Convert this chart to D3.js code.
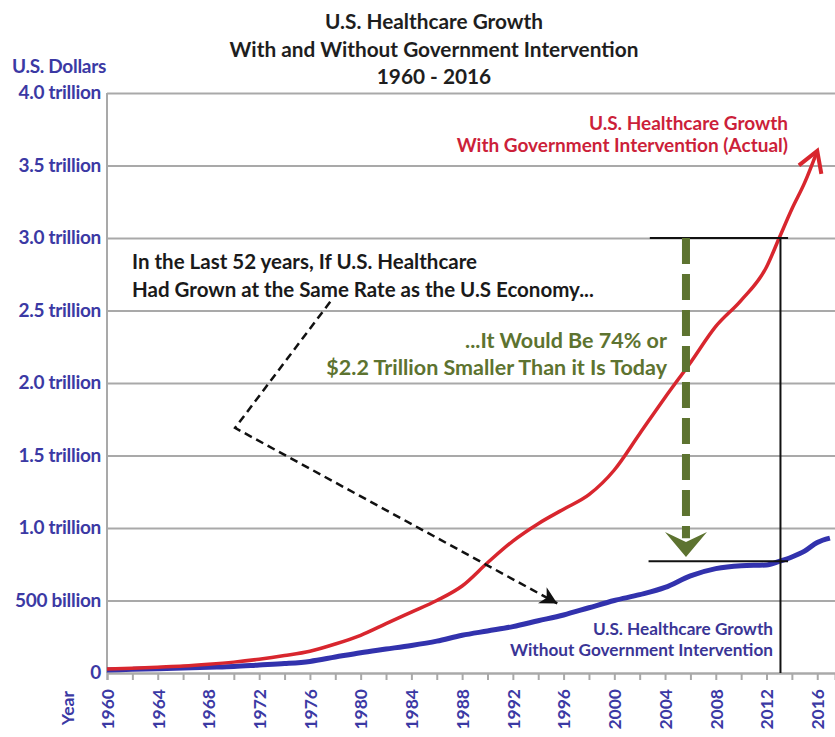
<!DOCTYPE html>
<html>
<head>
<meta charset="utf-8">
<script src="https://cdn.jsdelivr.net/npm/d3@7"></script>
<style>
  body { margin: 0; background: #fff; }
  text { font-family: "Lato", "Open Sans", sans-serif; font-weight: bold; }
</style>
</head>
<body>
<div id="chart"></div>
<script>
// data (trillions of US dollars)
const redYears = [1960,1962,1964,1966,1968,1970,1972,1974,1976,1978,1980,1982,1984,1986,1988,1990,1992,1994,1996,1998,2000,2002,2004,2006,2008,2010,2012,2013,2014,2015,2016];
const withGov  = [0.027,0.032,0.04,0.048,0.06,0.075,0.095,0.12,0.15,0.2,0.26,0.34,0.42,0.5,0.6,0.76,0.91,1.03,1.13,1.23,1.4,1.65,1.9,2.14,2.39,2.57,2.8,3.0,3.2,3.38,3.6];
const blueYears = [1960,1962,1964,1966,1968,1970,1972,1974,1976,1978,1980,1982,1984,1986,1988,1990,1992,1994,1996,1998,2000,2002,2004,2006,2008,2010,2012,2013,2014,2015,2016,2017];
const withoutGov = [0.02,0.025,0.03,0.035,0.04,0.045,0.055,0.065,0.08,0.11,0.14,0.165,0.19,0.22,0.26,0.29,0.32,0.36,0.4,0.45,0.5,0.54,0.59,0.67,0.72,0.74,0.745,0.77,0.8,0.84,0.9,0.93];
const yTicks = [0, 0.5, 1, 1.5, 2, 2.5, 3, 3.5, 4];
const yTickLabels = ["0","500 billion","1.0 trillion","1.5 trillion","2.0 trillion","2.5 trillion","3.0 trillion","3.5 trillion","4.0 trillion"];
const xTicks = d3.range(1960, 2018, 2);

// annotation guides in data units [year, trillions]
const pointerPath = [[1977.6, 2.56], [1970.1, 1.69], [1995.5, 0.48]];
const gapTop = [[2002.8, 3.0], [2013.7, 3.0]];
const gapBottom = [[2002.7, 0.77], [2013.7, 0.77]];
const marker2013 = [[2013.1, 3.0], [2013.1, 0]];
const greenArrow = [[2005.65, 3.0], [2005.65, 0.93]];

const W = 835, H = 737;
const svg = d3.select("#chart").append("svg")
  .attr("width", W)
  .attr("height", H);

svg.append("rect").attr("width", W).attr("height", H).attr("fill", "#fff");

const x = d3.scaleLinear().domain([1960, 2017.4]).range([107, 835]);
const y = d3.scaleLinear().domain([0, 4]).range([673, 93]);

const axisBlue = "#3b39a4";

// gridlines
svg.append("g")
  .attr("transform", `translate(${x(1960)},0)`)
  .call(d3.axisLeft(y).tickValues(yTicks).tickSize(-(W - x(1960))).tickFormat(""))
  .call(g => g.select(".domain").remove())
  .selectAll("line")
    .attr("stroke", "#a9a9a9")
    .attr("stroke-width", 2);

// y axis line + labels
svg.append("line")
  .attr("x1", x(1960)).attr("x2", x(1960))
  .attr("y1", y(4)).attr("y2", y(0))
  .attr("stroke", "#a9a9a9").attr("stroke-width", 2);

svg.append("g")
  .selectAll("text")
  .data(yTicks)
  .join("text")
    .attr("x", 101)
    .attr("y", d => y(d))
    .attr("dy", "0.33em")
    .attr("text-anchor", "end")
    .attr("fill", axisBlue)
    .attr("font-size", 19)
    .attr("letter-spacing", -0.3)
    .text((d, i) => yTickLabels[i]);

svg.append("text")
  .attr("x", 12).attr("y", 73)
  .attr("fill", axisBlue)
  .attr("font-size", 19)
  .attr("letter-spacing", -0.3)
  .text("U.S. Dollars");

// x axis
const xAxis = svg.append("g")
  .attr("transform", `translate(0,${y(0)})`)
  .call(d3.axisBottom(x).tickValues(xTicks).tickSize(7).tickFormat(d => d % 4 === 0 ? d : ""));
xAxis.select(".domain").attr("stroke", "#a9a9a9").attr("stroke-width", 2);
xAxis.selectAll(".tick line").attr("stroke", "#a9a9a9").attr("stroke-width", 2);
xAxis.selectAll(".tick text")
  .attr("transform", "rotate(-90)")
  .attr("x", -16)
  .attr("y", 0)
  .attr("dy", "0.36em")
  .attr("text-anchor", "end")
  .attr("fill", axisBlue)
  .attr("font-size", 17.5)
  .attr("font-family", "Lato, sans-serif")
  .attr("font-weight", "bold");

svg.append("text")
  .attr("transform", `translate(${68},${691}) rotate(-90)`)
  .attr("dy", "0.36em")
  .attr("text-anchor", "end")
  .attr("fill", axisBlue)
  .attr("font-size", 17.5)
  .text("Year");

// markers
const defs = svg.append("defs");
defs.append("marker")
  .attr("id", "redHead")
  .attr("markerUnits", "userSpaceOnUse")
  .attr("viewBox", "-26 -14 30 28")
  .attr("markerWidth", 30).attr("markerHeight", 28)
  .attr("refX", 0).attr("refY", 0)
  .attr("orient", "auto")
  .append("path")
    .attr("d", "M-20,-12 L0,0 L-20,12")
    .attr("fill", "none")
    .attr("stroke", "#d8262e")
    .attr("stroke-width", 4);

defs.append("marker")
  .attr("id", "blackHead")
  .attr("markerUnits", "userSpaceOnUse")
  .attr("viewBox", "-18 -10 20 20")
  .attr("markerWidth", 20).attr("markerHeight", 20)
  .attr("refX", 0).attr("refY", 0)
  .attr("orient", "auto")
  .append("path")
    .attr("d", "M-17,-9 L0,0 L-17,9 L-12,0 Z")
    .attr("fill", "#111");

const line = d3.line()
  .x(d => x(d[0]))
  .y(d => y(d[1]))
  .curve(d3.curveMonotoneX);

const straight = d3.line().x(d => x(d[0])).y(d => y(d[1]));

// series
svg.append("path")
  .datum(blueYears.map((yr, i) => [yr, withoutGov[i]]))
  .attr("fill", "none")
  .attr("stroke", "#3232ad")
  .attr("stroke-width", 5)
  .attr("d", line);

svg.append("path")
  .datum(redYears.map((yr, i) => [yr, withGov[i]]))
  .attr("fill", "none")
  .attr("stroke", "#d8262e")
  .attr("stroke-width", 3.5)
  .attr("marker-end", "url(#redHead)")
  .attr("d", line);

// black guide lines
[gapTop, gapBottom, marker2013].forEach(seg => {
  svg.append("path")
    .attr("d", straight(seg))
    .attr("fill", "none")
    .attr("stroke", "#111")
    .attr("stroke-width", 2);
});

// green dashed arrow
const green = "#5d7330";
svg.append("path")
  .attr("d", straight(greenArrow))
  .attr("stroke", green)
  .attr("stroke-width", 8)
  .attr("stroke-dasharray", "26,10");

const gx = x(greenArrow[1][0]), gy = y(0.8);
svg.append("path")
  .attr("d", `M${gx - 21},${gy - 25} L${gx},${gy - 15} L${gx + 21},${gy - 25} L${gx},${gy} Z`)
  .attr("fill", green);

// black dashed pointer
svg.append("path")
  .attr("d", straight(pointerPath))
  .attr("fill", "none")
  .attr("stroke", "#111")
  .attr("stroke-width", 2.5)
  .attr("stroke-dasharray", "8,5")
  .attr("marker-end", "url(#blackHead)");

// title
const title = ["U.S. Healthcare Growth", "With and Without Government Intervention", "1960 - 2016"];
svg.append("g")
  .selectAll("text")
  .data(title)
  .join("text")
    .attr("x", 434)
    .attr("y", (d, i) => 29 + i * 27.5)
    .attr("text-anchor", "middle")
    .attr("fill", "#1e1e1e")
    .attr("font-size", 20.8)
    .text(d => d);

// annotations
const noteBlack = ["In the Last 52 years, If U.S. Healthcare", "Had Grown at the Same Rate as the U.S Economy..."];
svg.append("g")
  .selectAll("text")
  .data(noteBlack)
  .join("text")
    .attr("x", 132)
    .attr("y", (d, i) => 269 + i * 27.5)
    .attr("fill", "#1a1a1a")
    .attr("font-size", 20.5)
    .text(d => d);

const noteGreen = ["...It Would Be 74% or", "$2.2 Trillion Smaller Than it Is Today"];
svg.append("g")
  .selectAll("text")
  .data(noteGreen)
  .join("text")
    .attr("x", 667)
    .attr("y", (d, i) => 348 + i * 26.5)
    .attr("text-anchor", "end")
    .attr("fill", green)
    .attr("font-size", 21.5)
    .text(d => d);

const noteRed = ["U.S. Healthcare Growth", "With Government Intervention (Actual)"];
svg.append("g")
  .selectAll("text")
  .data(noteRed)
  .join("text")
    .attr("x", 788)
    .attr("y", (d, i) => 130 + i * 22)
    .attr("text-anchor", "end")
    .attr("fill", "#cc1f3a")
    .attr("font-size", 19)
    .text(d => d);

const noteBlue = ["U.S. Healthcare Growth", "Without Government Intervention"];
svg.append("g")
  .selectAll("text")
  .data(noteBlue)
  .join("text")
    .attr("x", 773)
    .attr("y", (d, i) => 635 + i * 20.5)
    .attr("text-anchor", "end")
    .attr("fill", "#3a3596")
    .attr("font-size", 17.2)
    .text(d => d);
</script>
</body>
</html>
